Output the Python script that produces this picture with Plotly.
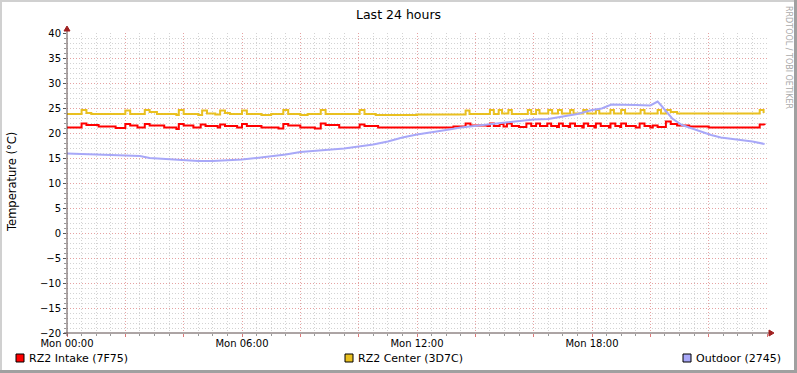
import plotly.graph_objects as go
from datetime import datetime, timedelta

# ---------------- data ----------------
intake_t = ["00:00","00:30","00:40","01:05","01:40","02:00","02:10","02:25","02:40","02:50",
            "03:20","03:45","03:50","04:00","04:20","04:35","04:45","05:10","05:15","05:25",
            "05:50","06:00","06:10","06:40","07:15","07:25","07:35","08:00","08:30","08:42",
            "08:52","09:20","10:02","10:12","10:40","13:15","13:40","13:50","14:25","14:30",
            "14:38","14:50","14:58","15:05","15:15","15:30","15:45","15:55","16:05","16:13",
            "16:28","16:36","16:48","16:52","17:00","17:12","17:15","17:25","17:40","17:43",
            "17:52","18:05","18:08","18:18","18:35","18:38","18:48","18:58","19:00","19:10",
            "19:30","19:38","19:48","20:00","20:05","20:15","20:32","20:42","20:55","21:20",
            "22:00","23:45","23:55"]
intake_v = [21.1,21.9,21.6,21.3,21.0,21.8,21.5,21.1,21.8,21.5,
            21.1,20.8,21.8,21.5,21.1,21.7,21.4,21.1,21.7,21.4,
            21.1,21.8,21.4,21.1,20.9,21.8,21.5,21.1,20.9,21.9,
            21.6,21.1,21.7,21.4,21.1,21.3,21.9,21.5,21.4,21.9,
            21.4,21.8,21.3,21.9,21.4,21.2,21.9,21.4,21.9,21.4,
            21.9,21.4,21.2,21.9,21.4,21.2,21.9,21.4,21.1,21.9,
            21.4,21.1,21.9,21.4,21.1,21.9,21.4,21.2,21.9,21.4,
            21.1,21.9,21.4,21.1,21.5,21.2,22.3,21.8,21.5,21.3,
            21.1,21.7,21.6]

center_t = ["00:00","00:30","00:40","00:50","02:00","02:10","02:40","02:50","03:05","03:45",
            "03:50","04:00","04:30","04:38","04:48","05:05","05:15","05:25","05:35","06:00",
            "06:10","06:40","07:00","07:25","07:35","08:00","08:15","08:42","08:52","10:02",
            "10:12","10:35","12:00","13:40","13:48","14:30","14:38","14:48","14:55","15:08",
            "15:15","15:48","15:55","16:05","16:12","16:30","16:38","16:50","16:58","17:15",
            "17:22","17:42","17:50","18:08","18:15","18:38","18:45","19:00","19:08","19:40",
            "19:48","20:15","20:22","20:33","20:42","20:55","23:45","23:53"]
center_v = [23.8,24.6,24.0,23.8,24.5,23.8,24.6,24.2,23.8,23.6,
            24.6,23.8,23.6,24.5,23.9,23.7,24.5,24.0,23.8,24.5,
            23.8,23.6,23.8,24.6,23.8,23.6,23.8,24.6,23.8,24.6,
            23.8,23.6,23.7,24.5,23.8,24.6,23.8,24.6,23.9,24.6,
            23.8,24.6,23.8,24.6,23.9,24.6,23.9,24.6,23.9,24.6,
            23.9,24.6,23.9,24.6,23.9,24.6,23.9,24.6,23.9,24.6,
            23.9,24.6,23.9,24.6,24.2,23.9,24.6,24.0]

outdoor_t = ["00:00","00:30","01:00","01:30","02:00","02:30","02:50","03:20","04:00","04:30",
             "05:00","05:30","06:00","06:30","07:00","07:30","08:00","08:30","09:00","09:30",
             "10:00","10:30","11:00","11:30","12:00","12:30","13:00","13:30","14:00","14:30",
             "15:00","15:30","16:00","16:30","17:00","17:30","18:00","18:20","18:40","19:00",
             "19:30","20:00","20:15","20:25","20:30","20:45","21:05","21:25","21:45","22:05",
             "22:25","22:50","23:10","23:30","23:55"]
outdoor_v = [15.9,15.8,15.7,15.7,15.6,15.4,15.0,14.8,14.6,14.4,
             14.4,14.5,14.7,15.0,15.3,15.7,16.2,16.4,16.7,16.9,
             17.3,17.7,18.3,19.1,19.7,20.1,20.6,21.1,21.4,21.7,
             22.0,22.3,22.7,22.8,23.3,23.8,24.6,24.9,25.7,25.7,
             25.6,25.5,26.3,25.2,24.6,22.9,21.6,20.9,20.3,19.6,
             19.1,18.8,18.5,18.3,17.8]

series_names = ["RZ2 Intake (7F75)", "RZ2 Center (3D7C)", "Outdoor (2745)"]
series_colors = ["#FF0000", "#E9C020", "#A8A8F8"]

y_ticks = list(range(-20, 41, 5))
x_tick_hours = list(range(0, 25, 2))
x_tick_text = ["Mon 00:00", "", "", "Mon 06:00", "", "", "Mon 12:00", "", "", "Mon 18:00", "", "", ""]

# ---------------- helpers ----------------
BASE = datetime(2024, 1, 1)  # a Monday


def ts(s):
    h, m = s.split(":")
    return BASE + timedelta(hours=int(h), minutes=int(m))


# plot area in pixels
L, R, T, B = 67, 767, 33, 333
W, H = 797, 373


def px(x):
    return (x - L) / (R - L)


def py(y):
    return (B - y) / (B - T)


FONT = "DejaVu Sans"

fig = go.Figure()
fig.add_trace(go.Scatter(x=[ts(t) for t in intake_t], y=intake_v, mode="lines",
                         line=dict(color=series_colors[0], width=2, shape="hv"),
                         name=series_names[0]))
fig.add_trace(go.Scatter(x=[ts(t) for t in center_t], y=center_v, mode="lines",
                         line=dict(color=series_colors[1], width=2, shape="hv"),
                         name=series_names[1]))
fig.add_trace(go.Scatter(x=[ts(t) for t in outdoor_t], y=outdoor_v, mode="lines",
                         line=dict(color=series_colors[2], width=2),
                         name=series_names[2]))

major_grid = "rgba(235,150,150,0.8)"
minor_grid = "rgba(200,200,200,0.8)"

fig.update_xaxes(
    type="date",
    range=[BASE, BASE + timedelta(hours=24)],
    tickvals=[BASE + timedelta(hours=h) for h in x_tick_hours],
    ticktext=x_tick_text,
    showgrid=True, gridcolor=major_grid, griddash="1px,2px", gridwidth=1,
    minor=dict(dtick=1800000, showgrid=True, gridcolor=minor_grid, griddash="1px,2px",
               ticks="outside", ticklen=2, tickcolor="#999"),
    ticks="outside", ticklen=3, tickcolor="#dd7777",
    ticklabelstandoff=-2,
    showline=False, zeroline=False,
    tickfont=dict(family=FONT, size=10, color="#000"),
    fixedrange=True,
)
fig.update_yaxes(
    range=[-20, 40],
    tickvals=y_ticks,
    showgrid=True, gridcolor=major_grid, griddash="1px,2px", gridwidth=1,
    minor=dict(dtick=1, showgrid=True, gridcolor=minor_grid, griddash="1px,2px",
               ticks="outside", ticklen=2, tickcolor="#999"),
    ticks="outside", ticklen=3, tickcolor="#555",
    showline=False, zeroline=False,
    tickfont=dict(family=FONT, size=10, color="#000"),
    fixedrange=True,
)

shapes = []
# axes lines
shapes.append(dict(type="line", xref="paper", yref="paper", x0=px(64), x1=px(770), y0=py(333), y1=py(333),
                   line=dict(color="#5a4a4a", width=1)))
shapes.append(dict(type="line", xref="paper", yref="paper", x0=px(67), x1=px(67), y0=py(336), y1=py(30),
                   line=dict(color="#5a4a4a", width=1)))
# arrow heads
shapes.append(dict(type="path", xref="paper", yref="paper",
                   path=f"M {px(64)} {py(31)} L {px(67)} {py(26)} L {px(70)} {py(31)} Z",
                   fillcolor="#a02020", line=dict(color="#a02020", width=1)))
shapes.append(dict(type="path", xref="paper", yref="paper",
                   path=f"M {px(769)} {py(330)} L {px(774)} {py(333)} L {px(769)} {py(336)} Z",
                   fillcolor="#a02020", line=dict(color="#a02020", width=1)))
# frame border
shapes.append(dict(type="rect", xref="paper", yref="paper", x0=px(0), x1=px(797), y0=py(0), y1=py(2),
                   fillcolor="#d0d0d0", line=dict(width=0), layer="above"))
shapes.append(dict(type="rect", xref="paper", yref="paper", x0=px(0), x1=px(2), y0=py(0), y1=py(373),
                   fillcolor="#d0d0d0", line=dict(width=0), layer="above"))
shapes.append(dict(type="rect", xref="paper", yref="paper", x0=px(794), x1=px(797), y0=py(0), y1=py(373),
                   fillcolor="#a0a0a0", line=dict(width=0), layer="above"))
shapes.append(dict(type="rect", xref="paper", yref="paper", x0=px(0), x1=px(797), y0=py(370), y1=py(373),
                   fillcolor="#a0a0a0", line=dict(width=0), layer="above"))

annotations = []
# legend
legend_x = [16, 345, 683]
for lx, name, col in zip(legend_x, series_names, series_colors):
    shapes.append(dict(type="rect", xref="paper", yref="paper", x0=px(lx), x1=px(lx + 8),
                       y0=py(354), y1=py(362), fillcolor=col, line=dict(color="#000", width=1)))
    annotations.append(dict(x=px(lx + 11), y=py(358), xref="paper", yref="paper", text=name,
                            showarrow=False, xanchor="left", yanchor="middle",
                            font=dict(family=FONT, size=11, color="#000")))

annotations.append(dict(x=px(398), y=py(14), xref="paper", yref="paper", text="Last 24 hours",
                        showarrow=False, xanchor="center", yanchor="middle",
                        font=dict(family=FONT, size=12.5, color="#000")))
annotations.append(dict(x=px(12), y=py(182), xref="paper", yref="paper", text="Temperature (°C)",
                        showarrow=False, textangle=-90, xanchor="center", yanchor="middle",
                        font=dict(family=FONT, size=11.5, color="#000")))
annotations.append(dict(x=px(788), y=py(57), xref="paper", yref="paper", text="RRDTOOL / TOBI OETIKER",
                        showarrow=False, textangle=90, xanchor="center", yanchor="middle",
                        font=dict(family=FONT, size=8, color="#aaaaaa")))

fig.update_layout(
    width=W, height=H,
    margin=dict(l=L, r=W - R, t=T, b=H - B, pad=0),
    paper_bgcolor="#ffffff", plot_bgcolor="#ffffff",
    showlegend=False,
    shapes=shapes, annotations=annotations,
    font=dict(family=FONT),
)

fig.write_html("out.html", config={"displayModeBar": False},
               post_script="document.body.style.margin='0px';document.body.style.padding='0px';")
